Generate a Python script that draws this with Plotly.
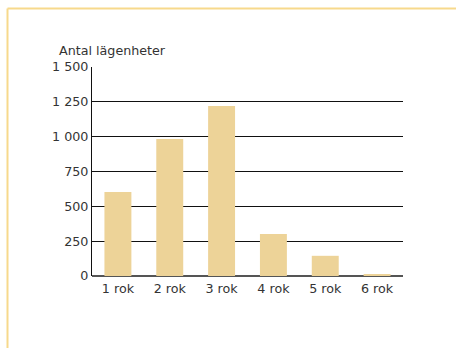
import plotly.graph_objects as go

categories = ["1 rok", "2 rok", "3 rok", "4 rok", "5 rok", "6 rok"]
values = [603, 983, 1220, 301, 145, 14]
tick_vals = [0, 250, 500, 750, 1000, 1250, 1500]
tick_text = ["0", "250", "500", "750", "1 000", "1 250", "1 500"]
y_title = "Antal lägenheter"

W, H = 456, 348
L, R, T, B = 92, 53, 67, 72
pw, ph = W - L - R, H - T - B
FS = 12.7

def px(x):
    return (x - L) / pw

def py(y):
    return (H - B - y) / ph

fig = go.Figure()
fig.add_trace(go.Bar(
    x=categories, y=values,
    marker=dict(color="#edd398", line=dict(width=0)),
    width=0.52,
))

fig.update_layout(
    width=W, height=H,
    margin=dict(l=L, r=R, t=T, b=B),
    paper_bgcolor="white", plot_bgcolor="white",
    showlegend=False,
    font=dict(family="DejaVu Sans, sans-serif", size=FS, color="#333333"),
    xaxis=dict(
        showgrid=False, showline=False, ticks="",
        tickfont=dict(size=FS, color="#333333"),
        range=[-0.5, 5.5],
        ticklabelstandoff=3,
    ),
    yaxis=dict(
        range=[0, 1500], tickvals=tick_vals, ticktext=tick_text,
        showgrid=True, gridcolor="#111111", gridwidth=1.2,
        showline=True, linecolor="#111111", linewidth=1.2,
        zeroline=True, zerolinecolor="#555555", zerolinewidth=2,
        ticks="", ticklen=0,
        tickfont=dict(size=FS, color="#333333"),
    ),
    annotations=[dict(
        text=y_title, xref="paper", yref="paper",
        x=px(56.5), y=py(50.5), xanchor="left", yanchor="middle",
        showarrow=False, font=dict(size=FS, color="#333333"),
    )],
    shapes=[
        dict(type="line", xref="paper", yref="paper",
             x0=px(7.5), x1=px(W + 2), y0=py(8.5), y1=py(8.5),
             line=dict(color="#f7d98c", width=2)),
        dict(type="line", xref="paper", yref="paper",
             x0=px(7.5), x1=px(7.5), y0=py(8.5), y1=py(H + 2),
             line=dict(color="#f7d98c", width=2)),
    ],
)

fig.write_html("out.html")
